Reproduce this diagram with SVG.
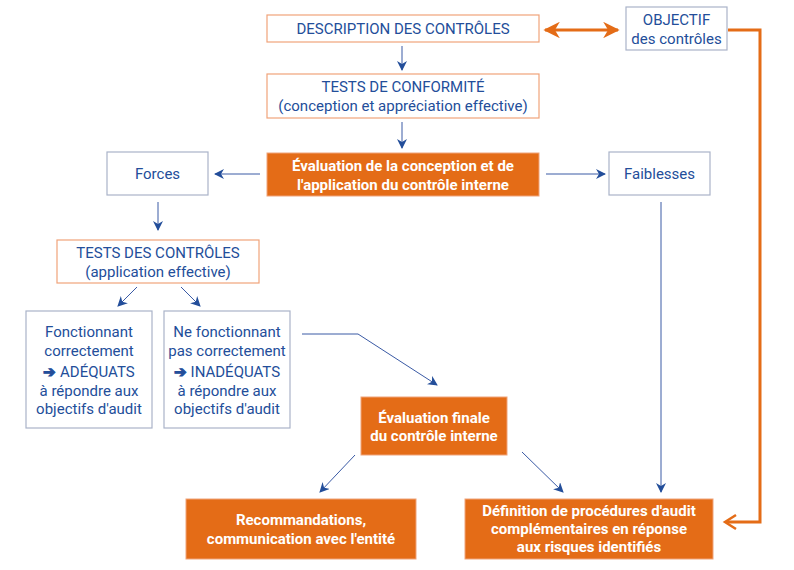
<svg xmlns="http://www.w3.org/2000/svg" width="794" height="570" viewBox="0 0 794 570">
<defs>
<style>
.t{font-family:Roboto,"Liberation Sans",sans-serif;font-size:15px;fill:#234e9a;text-anchor:middle}
.w{font-family:Roboto,"Liberation Sans",sans-serif;font-size:15px;font-weight:bold;fill:#ffffff;text-anchor:middle}
.ar{stroke:#234e9a;stroke-width:1}
.bo{fill:#ffffff;stroke:#f0a37a;stroke-width:1.2}
.bg{fill:#ffffff;stroke:#aab3c9;stroke-width:1.2}
.or{fill:#e46c17;stroke:#f0a37a;stroke-width:1}
.c{fill:none;stroke:#3a5aa5;stroke-width:1}
.co{fill:none;stroke:#e46c17;stroke-width:3}
</style>
<marker id="ab" viewBox="0 0 10 10" refX="9" refY="5" markerWidth="10" markerHeight="10" markerUnits="userSpaceOnUse" orient="auto">
<path d="M0,0 L10,5 L0,10 L3,5 Z" fill="#234e9a"/>
</marker>
<marker id="ao" viewBox="0 0 10 10" refX="9" refY="5" markerWidth="5.5" markerHeight="5.5" orient="auto-start-reverse">
<path d="M0,0 L10,5 L0,10 L3,5 Z" fill="#e46c17"/>
</marker>
</defs>
<rect width="794" height="570" fill="#ffffff"/>
<g id="connectors">
<line class="co" x1="545" y1="30" x2="618" y2="30" marker-start="url(#ao)" marker-end="url(#ao)"/>
<polyline class="co" points="728,30 760,30 760,522 726,522"/>
<path d="M736,515 L725,522 L736,529" fill="none" stroke="#e46c17" stroke-width="2.5"/>
<line class="c" x1="402" y1="46" x2="402" y2="70" marker-end="url(#ab)"/>
<line class="c" x1="402" y1="122" x2="402" y2="148" marker-end="url(#ab)"/>
<line class="c" x1="260" y1="174" x2="215" y2="174" marker-end="url(#ab)"/>
<line class="c" x1="546" y1="174" x2="605" y2="174" marker-end="url(#ab)"/>
<line class="c" x1="158" y1="202" x2="158" y2="230" marker-end="url(#ab)"/>
<line class="c" x1="137" y1="287" x2="118" y2="306" marker-end="url(#ab)"/>
<line class="c" x1="181" y1="287" x2="200" y2="306" marker-end="url(#ab)"/>
<polyline class="c" points="302,334 358,334 437,385" marker-end="url(#ab)"/>
<line class="c" x1="661" y1="202" x2="661" y2="492" marker-end="url(#ab)"/>
<line class="c" x1="355" y1="455" x2="320" y2="492" marker-end="url(#ab)"/>
<line class="c" x1="522" y1="452" x2="563" y2="492" marker-end="url(#ab)"/>
</g>
<g id="description">
<rect class="bo" x="267" y="15" width="272" height="27"/>
<text class="t" x="403" y="34">DESCRIPTION DES CONTRÔLES</text>
</g>
<g id="objectif">
<rect class="bg" x="626" y="7" width="101" height="43"/>
<text class="t" x="676.5" y="25">OBJECTIF</text>
<text class="t" x="676.5" y="44">des contrôles</text>
</g>
<g id="tests-conformite">
<rect class="bo" x="267" y="74" width="272" height="44"/>
<text class="t" x="403" y="92">TESTS DE CONFORMITÉ</text>
<text class="t" x="403" y="111">(conception et appréciation effective)</text>
</g>
<g id="evaluation">
<rect class="or" x="267" y="153" width="272" height="43"/>
<text class="w" x="403" y="171">Évaluation de la conception et de</text>
<text class="w" x="403" y="190">l'application du contrôle interne</text>
</g>
<g id="forces">
<rect class="bg" x="107" y="152" width="101" height="43"/>
<text class="t" x="157.5" y="179">Forces</text>
</g>
<g id="faiblesses">
<rect class="bg" x="609" y="152" width="101" height="43"/>
<text class="t" x="659.5" y="179">Faiblesses</text>
</g>
<g id="tests-controles">
<rect class="bo" x="57" y="240" width="202" height="43"/>
<text class="t" x="158" y="258">TESTS DES CONTRÔLES</text>
<text class="t" x="158" y="277">(application effective)</text>
</g>
<g id="fonctionnant">
<rect class="bg" x="26" y="311" width="126" height="117"/>
<text class="t" x="89" y="337">Fonctionnant</text>
<text class="t" x="89" y="356">correctement</text>
<text class="t" x="89" y="377"><tspan class="ar">➔</tspan> ADÉQUATS</text>
<text class="t" x="89" y="396">à répondre aux</text>
<text class="t" x="89" y="414">objectifs d'audit</text>
</g>
<g id="ne-fonctionnant">
<rect class="bg" x="164" y="311" width="126" height="117"/>
<text class="t" x="227" y="337">Ne fonctionnant</text>
<text class="t" x="227" y="356">pas correctement</text>
<text class="t" x="227" y="377"><tspan class="ar">➔</tspan> INADÉQUATS</text>
<text class="t" x="227" y="396">à répondre aux</text>
<text class="t" x="227" y="414">objectifs d'audit</text>
</g>
<g id="evaluation-finale">
<rect class="or" x="361" y="397" width="146" height="58"/>
<text class="w" x="434" y="423">Évaluation finale</text>
<text class="w" x="434" y="441">du contrôle interne</text>
</g>
<g id="recommandations">
<rect class="or" x="186" y="499" width="230" height="60"/>
<text class="w" x="301" y="525">Recommandations,</text>
<text class="w" x="301" y="544">communication avec l'entité</text>
</g>
<g id="definition">
<rect class="or" x="465" y="499" width="248" height="60"/>
<text class="w" x="589" y="516">Définition de procédures d'audit</text>
<text class="w" x="589" y="534">complémentaires en réponse</text>
<text class="w" x="589" y="552">aux risques identifiés</text>
</g>
</svg>
